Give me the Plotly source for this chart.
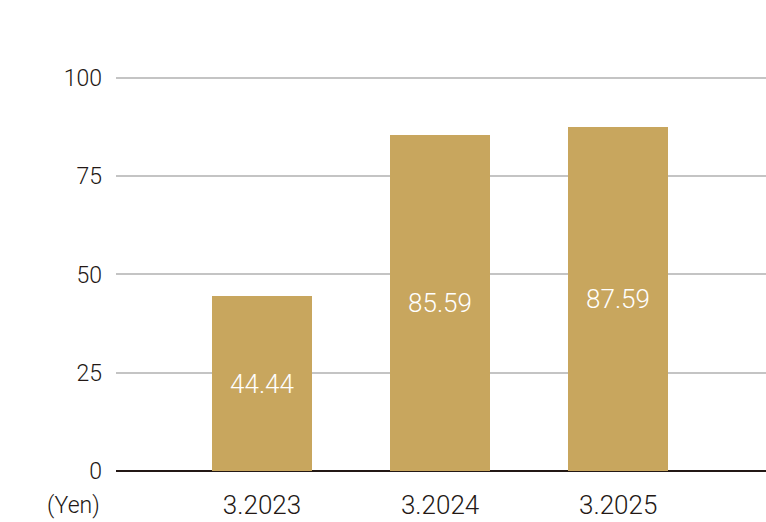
import plotly.graph_objects as go

categories = ['3.2023', '3.2024', '3.2025']
values = [44.44, 85.59, 87.59]
y_ticks = [0, 25, 50, 75, 100]

gold = '#C8A65E'
ink = '#231815'
font_family = 'Roboto, Liberation Sans, sans-serif'

fig = go.Figure()

fig.add_trace(go.Bar(
    x=categories,
    y=values,
    width=0.56,
    marker=dict(color=gold, line=dict(width=0)),
    text=[f'{v:.2f}' for v in values],
    textposition='inside',
    insidetextanchor='middle',
    textangle=0,
    textfont=dict(color='white', size=26, family=font_family, weight=300),
))

fig.update_layout(
    width=766,
    height=522,
    margin=dict(l=116, r=0, t=76, b=51),
    paper_bgcolor='white',
    plot_bgcolor='white',
    showlegend=False,
    bargap=0,
    xaxis=dict(
        range=[-0.82, 2.83],
        showgrid=False,
        showline=False,
        zeroline=False,
        ticks='',
        ticklabelstandoff=16,
        tickfont=dict(size=26, color=ink, family=font_family, weight=300),
    ),
    yaxis=dict(
        range=[0, 100.5],
        tickvals=y_ticks,
        showgrid=True,
        gridcolor='#C4C4C4',
        gridwidth=1.5,
        zeroline=True,
        zerolinecolor=ink,
        zerolinewidth=2,
        showline=False,
        ticks='',
        ticklabelstandoff=13,
        tickfont=dict(size=23, color=ink, family=font_family, weight=300),
    ),
    annotations=[dict(
        text='(Yen)',
        xref='paper', yref='paper',
        x=-0.0215, y=0,
        xanchor='right', yanchor='middle',
        yshift=-34,
        showarrow=False,
        font=dict(size=23, color=ink, family=font_family, weight=300),
    )],
)

# the page is photographed at exactly the figure size, so drop the body margin
fig.write_html('out.html', config={'displayModeBar': False},
               post_script="document.body.style.margin='0';")
